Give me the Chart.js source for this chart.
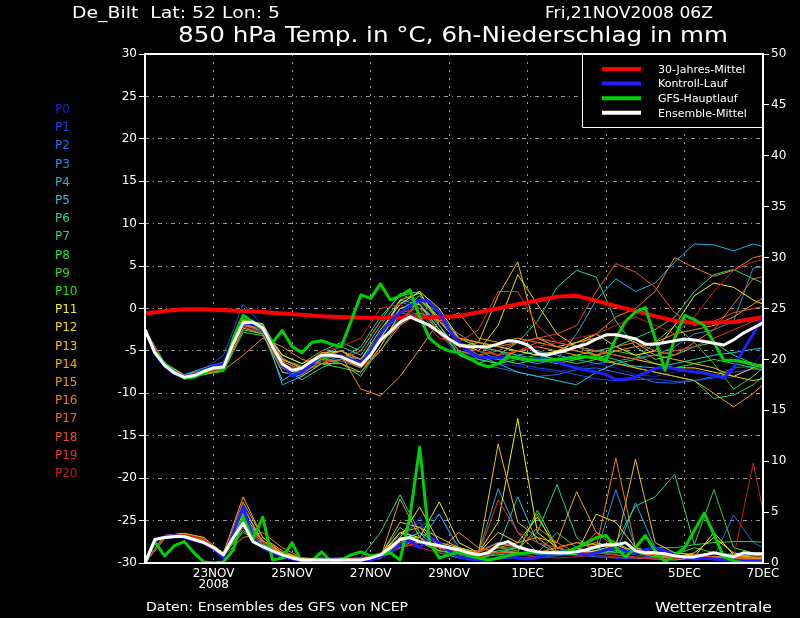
<!DOCTYPE html>
<html>
<head>
<meta charset="utf-8">
<title>De_Bilt 850 hPa Ensemble</title>
<script src="https://cdn.jsdelivr.net/npm/chart.js@4.4.1/dist/chart.umd.min.js"></script>
<style>
  html, body { margin: 0; padding: 0; background: #000; }
  canvas { display: block; }
</style>
</head>
<body>
<canvas id="ensChart" width="800" height="618"></canvas>
<script>
// x values are hours after Fri 21NOV2008 06Z
const STEP_MAIN = 6;     // Hauptlauf, Kontroll-Lauf, Ensemble-Mittel
const STEP_MEMBER = 12;  // members and 30-Jahres-Mittel
const X_MAX_HOURS = 378;
const X_TICK_HOURS = [42, 90, 138, 186, 234, 282, 330, 378];
const X_TICK_LABELS = [['23NOV', '2008'], '25NOV', '27NOV', '29NOV', '1DEC', '3DEC', '5DEC', '7DEC'];

// 850 hPa temperature, deg C (left axis)
const CLIMATE_TEMP = [-0.6,-0.3,-0.1,-0.1,-0.2,-0.3,-0.4,-0.6,-0.75,-0.9,-1.0,-1.1,-1.1,-1.1,-1.0,-1.0,-0.9,-0.45,0.0,0.5,0.95,1.4,1.5,0.9,0.3,-0.3,-0.9,-1.45,-1.7,-1.65,-1.6,-1.2,-0.8];
const GFS_TEMP = [-2.5,-5.1,-6.5,-7.5,-8.2,-8.1,-7.6,-7.0,-7.3,-3.5,
  -0.8,-1.6,-2.5,-4.0,-2.6,-4.5,-5.2,-4.0,-3.8,-4.2,
  -4.5,-1.5,1.6,1.2,2.9,1.0,1.5,2.2,-1.0,-3.5,
  -4.5,-5.0,-5.2,-5.8,-6.5,-6.9,-6.5,-5.7,-5.8,-6.0,
  -6.1,-6.1,-6.0,-5.9,-5.8,-5.7,-5.8,-6.1,-3.5,-1.5,
  -0.4,0.1,-3.5,-7.3,-3.5,-0.8,-1.3,-2.0,-4.0,-6.1,
  -6.1,-6.3,-6.6,-6.9];
const CONTROL_TEMP = [-2.5,-5.3,-6.8,-7.7,-8.0,-7.8,-7.3,-6.8,-6.5,-4.0,
  -1.8,-1.8,-2.6,-4.5,-6.5,-8.0,-7.5,-6.5,-5.5,-5.5,
  -5.6,-6.0,-6.4,-5.0,-3.0,-1.5,-0.5,0.3,1.0,0.8,
  -0.5,-2.5,-4.0,-5.0,-5.7,-5.8,-5.8,-5.8,-5.8,-5.9,
  -5.9,-6.0,-6.3,-6.7,-7.0,-7.3,-7.5,-7.8,-8.4,-8.3,
  -8.1,-7.6,-7.1,-6.9,-7.1,-7.3,-7.5,-7.6,-7.9,-8.2,
  -7.0,-4.9,-3.0,-1.0];
const MEAN_TEMP = [-2.5,-5.2,-6.7,-7.6,-8.1,-7.9,-7.4,-7.0,-6.9,-4.1,
  -1.7,-1.6,-2.3,-4.5,-6.5,-7.3,-7.0,-6.2,-5.5,-5.5,
  -5.7,-6.2,-6.7,-5.5,-3.7,-2.7,-1.6,-1.0,-1.5,-2.0,
  -2.8,-3.6,-4.3,-4.5,-4.5,-4.5,-4.2,-3.8,-3.9,-4.3,
  -5.3,-5.5,-5.2,-4.9,-4.5,-4.2,-3.6,-3.1,-3.1,-3.3,
  -3.6,-4.2,-4.2,-4.0,-3.8,-3.6,-3.7,-3.9,-4.1,-4.3,
  -3.7,-2.9,-2.3,-1.7];

// 6h precipitation, mm (right axis)
const GFS_PRECIP = [0.0,2.1,0.7,1.7,2.1,1.0,0.1,0.0,0.1,1.3,
  4.5,2.3,4.5,0.3,0.5,2.0,0.0,0.2,1.1,0.1,
  0.3,0.8,1.1,0.7,0.8,1.0,0.3,4.5,11.4,2.0,
  0.5,0.8,1.1,0.7,0.5,0.3,0.5,0.7,0.9,1.0,
  1.0,1.0,1.0,1.1,1.5,2.0,2.5,2.7,1.5,0.6,
  1.5,2.7,1.2,0.1,0.8,1.5,3.2,4.9,2.8,0.6,
  0.2,0.0,0.0,0.0];
const CONTROL_PRECIP = [0.0,2.2,2.6,2.7,2.5,2.2,2.0,1.4,0.5,3.0,
  5.5,2.5,1.5,1.0,0.7,0.4,0.2,0.2,0.3,0.4,
  0.3,0.2,0.3,0.3,0.6,1.0,1.8,2.2,1.5,2.5,
  2.0,1.2,0.6,0.4,0.3,0.2,0.5,0.8,0.5,0.4,
  0.5,0.8,1.0,1.2,1.0,0.8,1.0,1.3,1.5,1.2,
  1.0,1.3,1.5,1.2,0.8,0.5,0.4,0.5,0.4,0.3,
  0.3,0.2,0.2,0.2];
const MEAN_PRECIP = [0.0,2.3,2.5,2.6,2.6,2.3,2.0,1.5,0.8,2.5,
  3.9,2.1,1.6,1.2,0.8,0.5,0.3,0.3,0.3,0.3,
  0.3,0.3,0.3,0.5,0.8,1.5,2.3,2.5,2.1,1.9,
  1.7,1.5,1.3,1.0,0.8,1.0,1.8,2.1,1.6,1.3,
  1.1,1.0,1.0,1.0,1.1,1.3,1.6,1.8,1.8,2.0,
  1.2,1.0,1.0,0.9,0.7,0.6,0.6,0.8,1.0,0.8,
  0.6,1.0,0.9,0.9];

// ensemble members P0..P20, 12-hourly
const MEMBER_NAMES = ['P0','P1','P2','P3','P4','P5','P6','P7','P8','P9','P10',
  'P11','P12','P13','P14','P15','P16','P17','P18','P19','P20'];
const MEMBER_COLORS = ['#2020c8','#1848e8','#2068e8','#2890e8','#20b0e8','#20c8d0','#20d890',
  '#28d868','#30d850','#38d038','#20e010','#f0f010','#f0d810','#f0c010','#f0a810','#f09810',
  '#f08010','#f06818','#f05020','#e03828','#c82020'];
const MEMBER_TEMP = [
  [-2.5,-6.6,-8.0,-7.3,-6.8,-1.6,-2.2,-6.8,-7.5,-5.5,-5.5,-6.5,-3.0,0.5,1.5,-1.0,-4.5,-6.0,-6.5,-6.8,-7.2,-7.5,-7.0,-6.5,-7.0,-7.8,-8.0,-7.5,-7.2,-7.8,-8.2,-6.5,-4.0],
  [-2.5,-6.5,-8.0,-7.2,-5.5,0.5,-2.0,-7.5,-8.0,-5.8,-5.8,-6.8,-3.5,-0.5,0.8,-2.0,-5.0,-5.8,-6.0,-6.5,-7.0,-7.3,-7.8,-8.3,-8.5,-8.4,-8.3,-8.6,-8.5,-8.2,-7.5,-7.2,-7.0],
  [-2.5,-6.8,-8.2,-7.5,-7.0,-2.0,-2.5,-6.0,-7.0,-6.0,-6.2,-7.0,-4.0,-1.0,-0.5,-3.0,-5.5,-6.5,-7.0,-7.5,-8.0,-7.8,-7.2,-7.0,-7.5,-8.0,-8.7,-8.8,-8.5,-8.0,-7.0,-6.8,-6.5],
  [-2.5,-6.6,-8.1,-7.4,-6.6,-1.2,-2.0,-7.0,-7.8,-6.0,-5.0,-6.0,-3.0,0.8,0.0,-1.5,-4.0,-6.0,-6.5,-5.5,-5.0,-5.5,-6.0,-6.5,-6.2,-5.8,-5.5,-4.5,-3.0,-2.5,-1.5,4.8,5.0],
  [-2.5,-6.4,-7.8,-7.0,-6.3,-1.0,-2.0,-9.0,-8.0,-6.5,-5.5,-6.0,-3.5,0.0,1.0,-0.5,-3.5,-4.5,-5.0,-6.0,-6.5,-6.0,-3.0,1.0,3.5,2.0,3.0,5.5,7.6,7.5,6.8,7.6,7.0],
  [-2.5,-6.7,-8.0,-7.3,-6.8,-1.8,-2.8,-8.5,-7.0,-5.5,-4.5,-5.5,-2.0,1.0,0.5,-2.0,-5.0,-5.5,-6.5,-7.5,-8.0,-8.5,-9.0,-7.5,-6.5,-6.8,-7.0,-6.5,-6.0,-5.5,-5.2,-4.8,-4.5],
  [-2.5,-6.8,-8.2,-7.6,-7.2,-2.5,-3.0,-7.0,-8.4,-7.0,-6.0,-4.5,-1.0,1.5,2.0,-2.0,-5.5,-6.5,-5.5,-4.0,-1.5,2.5,4.5,3.7,-1.5,-4.5,-6.0,-5.5,-4.5,-4.0,-5.5,-6.5,-7.0],
  [-2.5,-6.5,-7.9,-7.2,-6.5,-1.5,-2.0,-5.5,-6.5,-5.0,-4.0,-5.0,-1.5,1.8,0.5,-3.0,-4.5,-5.0,-5.5,-5.0,-5.5,-6.0,-5.5,-5.0,-4.5,-3.5,-2.5,-1.0,2.0,4.0,4.6,3.5,2.5],
  [-2.5,-6.7,-8.3,-7.7,-7.3,-2.2,-2.8,-6.5,-7.5,-6.5,-7.0,-7.5,-5.0,-1.5,1.0,-1.0,-3.5,-4.5,-5.0,-5.5,-6.0,-6.5,-6.0,-5.5,-6.0,-7.0,-7.5,-8.0,-8.5,-10.6,-10.2,-9.0,-7.0],
  [-2.5,-6.6,-8.1,-7.5,-7.0,-2.0,-2.5,-6.0,-6.8,-5.8,-6.5,-8.0,-4.5,-0.5,1.5,-1.5,-4.0,-5.0,-6.0,-6.5,-6.0,-5.0,-4.5,-5.5,-6.5,-6.0,-4.0,-2.0,-4.0,-6.5,-9.5,-8.0,-6.0],
  [-2.5,-6.9,-8.3,-7.8,-7.4,-2.8,-3.2,-6.8,-7.2,-6.0,-5.5,-6.5,-3.5,0.0,0.5,-2.5,-5.5,-6.0,-6.5,-6.0,-5.5,-6.0,-6.5,-6.0,-5.0,-5.5,-6.5,-7.0,-6.5,-6.0,-6.5,-7.0,-7.5],
  [-2.5,-6.8,-8.2,-7.5,-6.8,-1.8,-2.5,-5.5,-6.5,-5.5,-5.0,-6.0,-2.5,0.5,2.0,0.0,-3.5,-4.0,-4.5,-5.0,-5.5,-5.0,-4.0,-3.0,-4.5,-5.5,-5.0,-2.0,1.5,3.0,2.5,1.0,0.0],
  [-2.5,-6.6,-8.0,-7.3,-6.5,-1.4,-1.8,-6.0,-7.0,-5.2,-5.0,-6.5,-3.0,1.0,1.8,-1.5,-4.0,-5.0,-2.0,4.0,0.5,-3.0,-4.5,-5.0,-5.5,-6.0,-6.5,-7.0,-7.0,-7.5,-8.0,-7.0,-6.0],
  [-2.5,-6.7,-8.1,-7.4,-6.7,-1.5,-2.3,-6.2,-7.3,-5.5,-5.7,-6.8,-3.5,0.0,0.5,-2.5,-4.5,-4.0,1.5,5.5,-3.5,-4.5,-4.0,-3.5,-3.0,-4.0,-5.5,-6.0,-6.5,-7.0,-8.0,-8.5,-8.0],
  [-2.5,-6.9,-8.3,-7.7,-7.2,-2.3,-3.0,-7.5,-8.0,-6.5,-6.5,-7.5,-4.5,-0.5,1.0,-1.0,-4.0,-5.5,-6.0,-5.0,-4.5,-5.0,-5.5,-6.0,-6.5,-7.0,-7.5,-8.0,-8.5,-10.0,-11.6,-10.0,-8.0],
  [-2.5,-6.5,-7.9,-7.2,-6.6,-1.3,-2.2,-6.5,-7.8,-5.2,-5.5,-9.5,-10.3,-8.0,-4.8,-1.5,-0.5,-3.5,-4.0,-3.5,-4.0,-4.5,-5.0,-5.5,-5.0,-4.5,-4.0,-3.0,-2.5,-2.0,-1.0,0.5,2.0],
  [-2.5,-6.8,-8.3,-7.6,-7.3,-5.5,-3.5,-4.5,-6.0,-6.5,-6.0,-7.0,-5.0,-2.0,-0.5,-1.5,-3.5,-4.0,-4.5,-4.0,-3.5,-4.0,-4.5,-3.0,-1.0,0.0,2.0,6.0,4.8,3.8,4.5,6.0,6.5],
  [-2.5,-6.6,-8.0,-7.4,-6.9,-1.9,-2.4,-5.8,-7.2,-5.8,-5.0,-6.0,-4.0,-2.0,1.0,-1.5,-3.0,-4.5,-5.5,-5.0,-4.0,-4.5,-5.0,-5.5,-4.5,-4.0,-5.0,-5.5,-4.0,-2.5,0.5,3.5,4.0],
  [-2.5,-6.7,-8.1,-7.5,-7.0,-2.0,-2.6,-6.6,-7.6,-6.2,-6.0,-5.0,-1.5,-0.5,0.0,-3.0,-5.0,-5.5,-5.0,-4.0,-3.5,-3.0,-2.0,2.0,5.3,4.3,2.5,-0.5,-2.0,-1.5,-0.5,0.0,0.5],
  [-2.5,-6.6,-8.0,-7.3,-6.7,-1.6,-2.1,-6.2,-7.3,-5.6,-5.7,-6.5,-3.0,-0.5,-1.0,-3.5,-4.0,-2.5,2.0,2.0,-2.0,-4.0,-4.5,-5.0,-5.5,-6.0,-5.5,-5.0,-4.5,-3.5,-2.5,-1.5,-1.0],
  [-2.5,-6.8,-8.2,-7.6,-7.1,-2.2,-2.8,-7.0,-7.0,-5.0,-4.5,-3.5,0.0,0.5,-1.0,-3.0,-4.5,-5.0,-5.5,-5.0,-4.5,-4.0,-3.5,-3.0,-2.0,-1.0,-2.0,-3.0,-1.0,2.0,4.5,5.5,6.0]
];
const MEMBER_PRECIP = [
  [0,2.5,2.7,2.3,0.6,4.5,2.0,0.8,0.2,0.3,0.2,0.3,0.5,1.8,4.5,2.0,1.5,0.5,0.8,0.6,0.5,0.8,1.0,0.7,0.5,0.4,0.6,0.8,0.5,0.3,0.2,0.3,0.2],
  [0,2.6,2.8,2.4,0.7,5.8,2.0,0.6,0.3,0.2,0.3,0.2,0.4,2.0,3.5,4.8,1.2,0.6,0.4,0.5,0.6,0.7,0.9,1.0,1.2,0.8,0.5,0.6,0.4,0.6,0.5,0.4,0.3],
  [0,2.4,2.6,2.2,0.5,5.0,1.5,0.7,0.2,0.2,0.3,0.3,0.5,2.8,4.0,1.5,0.8,0.5,1.0,1.0,0.6,0.8,0.8,0.6,0.5,0.5,0.4,0.3,0.5,0.6,4.7,2.0,1.0],
  [0,2.5,2.8,2.4,0.9,4.5,2.2,0.9,0.3,0.3,0.3,0.2,0.5,2.0,3.0,2.0,1.0,1.2,2.0,1.5,0.8,1.0,1.5,1.0,7.2,1.5,0.8,0.6,0.8,0.5,1.0,0.8,0.6],
  [0,2.4,2.6,2.3,0.8,4.2,1.8,1.0,0.4,0.2,0.3,0.3,0.6,3.0,2.0,4.8,1.5,1.0,7.3,3.0,1.0,0.8,1.2,1.5,1.0,5.9,1.5,1.0,0.8,1.0,0.6,0.5,0.5],
  [0,2.6,2.7,2.3,0.7,4.0,1.5,0.6,0.3,0.4,0.5,0.3,0.6,2.2,3.0,1.8,1.0,0.6,1.5,6.5,2.0,1.0,0.8,1.5,2.0,1.0,0.6,0.5,0.8,0.6,0.5,0.4,0.4],
  [0,2.7,2.9,2.4,0.6,3.5,1.6,0.5,0.2,0.3,0.3,0.5,3.0,6.7,3.0,1.0,0.5,0.4,1.0,1.5,3.0,7.7,2.5,1.0,0.8,0.5,0.4,0.3,0.5,0.4,0.3,0.2,0.2],
  [0,2.5,2.7,2.3,0.8,3.2,1.8,0.9,0.4,0.5,0.3,0.4,0.8,3.5,2.0,1.2,0.8,0.5,1.2,1.5,1.0,1.2,1.0,1.5,2.0,5.6,6.5,8.7,1.8,2.0,2.1,2.1,2.0],
  [0,2.6,2.8,2.3,0.7,3.8,1.5,0.7,0.3,0.3,0.4,0.3,0.5,2.0,2.0,1.2,1.0,0.8,1.2,1.0,5.2,1.5,1.0,1.0,1.2,1.5,1.0,0.8,0.6,0.5,0.4,0.3,0.3],
  [0,2.5,2.7,2.2,0.6,3.5,1.5,0.8,0.3,0.3,0.4,0.5,0.8,1.5,2.5,1.5,0.8,0.6,0.8,1.0,1.0,3.0,1.5,1.0,1.0,1.2,1.5,1.5,1.8,7.2,1.5,1.0,0.8],
  [0,2.6,2.9,2.5,0.9,3.0,2.0,1.0,0.5,0.4,0.3,0.3,0.6,2.5,2.2,1.5,1.0,0.8,1.5,1.2,4.8,1.0,0.8,1.2,1.5,1.0,0.6,0.8,1.5,1.0,0.8,0.6,0.5],
  [0,2.6,2.8,2.3,0.8,4.0,2.2,1.0,0.4,0.3,0.2,0.3,0.8,3.0,2.5,6.0,2.0,1.0,4.0,14.2,3.0,1.5,1.0,1.2,1.8,1.0,0.8,0.5,1.0,2.5,1.0,0.5,0.3],
  [0,2.5,2.7,2.3,0.9,5.5,2.0,0.8,0.3,0.2,0.3,0.3,0.5,2.5,5.5,2.0,1.5,1.0,3.0,2.0,4.5,1.5,1.0,4.8,4.0,1.5,1.0,0.8,0.6,3.0,0.8,0.5,0.5],
  [0,2.7,2.9,2.5,0.8,4.8,2.2,1.0,0.3,0.3,0.2,0.4,0.7,4.0,3.5,2.5,1.5,1.0,11.7,4.0,2.5,1.0,1.5,2.0,1.5,10.2,2.0,1.0,0.8,0.6,0.5,0.4,0.3],
  [0,2.7,2.9,2.4,1.0,6.5,2.5,1.2,0.4,0.3,0.3,0.3,0.6,3.0,3.5,1.5,1.0,0.6,1.5,2.0,2.5,2.0,7.0,3.0,2.0,1.0,0.8,0.6,0.5,0.4,0.3,0.3,0.2],
  [0,2.6,2.8,2.4,0.9,6.0,2.5,1.0,0.3,0.2,0.3,0.4,0.5,6.3,2.5,1.2,3.0,1.5,1.0,1.0,1.0,1.5,2.0,1.8,1.5,1.0,0.8,0.6,0.5,0.4,0.6,0.5,0.4],
  [0,2.7,2.8,2.5,0.7,2.5,3.0,1.5,0.5,0.3,0.3,0.3,0.5,2.5,2.5,1.5,1.2,1.0,2.0,1.5,1.0,1.5,2.0,1.5,10.3,1.5,1.0,0.8,0.6,0.5,0.6,0.8,0.5],
  [0,2.5,2.7,2.3,0.8,3.8,2.0,0.8,0.3,0.3,0.3,0.4,0.6,2.0,2.0,1.5,1.0,0.8,1.0,1.2,3.5,2.0,1.0,1.0,1.5,1.0,0.8,0.6,0.8,0.6,0.5,0.4,0.3],
  [0,2.6,2.8,2.3,0.8,4.2,2.2,0.9,0.3,0.3,0.3,0.3,0.5,1.5,2.0,1.5,1.0,1.2,1.5,1.5,1.0,1.2,1.0,3.0,1.5,1.0,0.8,0.6,0.8,0.6,0.5,0.6,0.5],
  [0,2.5,2.7,2.3,0.7,4.0,2.0,0.8,0.2,0.3,0.3,0.4,0.6,1.5,2.0,1.5,1.0,0.8,6.2,3.0,2.0,1.5,1.0,1.0,0.8,0.6,0.5,0.4,0.5,0.4,0.3,0.3,0.3],
  [0,2.6,2.8,2.4,0.8,3.5,2.0,0.7,0.3,0.3,0.4,0.5,1.0,2.0,1.5,1.0,0.8,0.6,1.0,0.8,0.6,0.5,0.6,0.8,0.6,0.5,0.4,0.5,0.6,0.4,0.5,9.8,0.5]
];

const LEGEND_LABELS = ['30-Jahres-Mittel', 'Kontroll-Lauf', 'GFS-Hauptlauf', 'Ensemble-Mittel'];
const FONT = '"DejaVu Sans", sans-serif';

function toPoints(values, step) {
  return values.map((v, i) => ({ x: i * step, y: v }));
}

function line(label, data, color, width, axis) {
  return {
    label: label, data: data, yAxisID: axis,
    borderColor: color, borderWidth: width,
    pointRadius: 0, tension: 0, fill: false, borderJoinStyle: 'round'
  };
}

// first dataset is drawn on top
const datasets = [
  line('Ensemble-Mittel', toPoints(MEAN_TEMP, STEP_MAIN), '#ffffff', 3, 'yT'),
  line('', toPoints(MEAN_PRECIP, STEP_MAIN), '#ffffff', 3, 'yP'),
  line('GFS-Hauptlauf', toPoints(GFS_TEMP, STEP_MAIN), '#00d000', 3, 'yT'),
  line('', toPoints(GFS_PRECIP, STEP_MAIN), '#00d000', 3, 'yP'),
  line('Kontroll-Lauf', toPoints(CONTROL_TEMP, STEP_MAIN), '#2020ff', 3, 'yT'),
  line('', toPoints(CONTROL_PRECIP, STEP_MAIN), '#2020ff', 3, 'yP'),
  line('30-Jahres-Mittel', toPoints(CLIMATE_TEMP, STEP_MEMBER), '#ff0000', 4, 'yT')
];
for (let m = MEMBER_NAMES.length - 1; m >= 0; m--) {
  datasets.push(line('', toPoints(MEMBER_TEMP[m], STEP_MEMBER), MEMBER_COLORS[m], 1, 'yT'));
  datasets.push(line('', toPoints(MEMBER_PRECIP[m], STEP_MEMBER), MEMBER_COLORS[m], 1, 'yP'));
}

// draw text squeezed/stretched to a given width
function fitText(ctx, text, x, y, width, size, color) {
  ctx.save();
  ctx.font = size + 'px ' + FONT;
  ctx.fillStyle = color;
  ctx.textBaseline = 'alphabetic';
  ctx.textAlign = 'left';
  const w = ctx.measureText(text).width;
  ctx.translate(x, y);
  ctx.scale(width / w, 1);
  ctx.fillText(text, 0, 0);
  ctx.restore();
}

const decorPlugin = {
  id: 'wzDecor',
  afterDatasetsDraw(chart) {
    const { ctx, chartArea: a } = chart;
    ctx.save();
    // legend box, top right
    const boxLeft = 582, boxBottom = 127;
    ctx.fillStyle = '#000';
    ctx.fillRect(boxLeft, a.top, a.right - boxLeft, boxBottom - a.top);
    ctx.strokeStyle = '#fff';
    ctx.lineWidth = 1;
    ctx.beginPath();
    ctx.moveTo(boxLeft + 0.5, a.top);
    ctx.lineTo(boxLeft + 0.5, boxBottom + 0.5);
    ctx.lineTo(a.right, boxBottom + 0.5);
    ctx.stroke();
    LEGEND_LABELS.forEach((lab, i) => {
      const ds = chart.data.datasets.find(d => d.label === lab);
      const y = 69 + i * 14.6;
      ctx.strokeStyle = ds.borderColor;
      ctx.lineWidth = 4;
      ctx.beginPath();
      ctx.moveTo(602, y);
      ctx.lineTo(641, y);
      ctx.stroke();
      ctx.font = '11px ' + FONT;
      ctx.fillStyle = '#fff';
      ctx.textBaseline = 'middle';
      ctx.fillText(lab, 658, y + 1);
    });
    // frame
    ctx.strokeStyle = '#fff';
    ctx.lineWidth = 2;
    ctx.strokeRect(a.left, a.top, a.right - a.left, a.bottom - a.top);
    ctx.restore();
  },
  afterDraw(chart) {
    const ctx = chart.ctx;
    fitText(ctx, 'De_Bilt  Lat: 52 Lon: 5', 72, 18, 208, 15, '#fff');
    fitText(ctx, 'Fri,21NOV2008 06Z', 545, 18, 168, 15, '#fff');
    fitText(ctx, '850 hPa Temp. in \u00B0C, 6h-Niederschlag in mm', 178, 42, 550, 22, '#fff');
    fitText(ctx, 'Daten: Ensembles des GFS von NCEP', 146, 611, 262, 12, '#fff');
    fitText(ctx, 'Wetterzentrale', 655, 612, 117, 14, '#fff');
    ctx.save();
    ctx.font = '12px ' + FONT;
    ctx.textBaseline = 'alphabetic';
    MEMBER_NAMES.forEach((name, m) => {
      ctx.fillStyle = MEMBER_COLORS[m];
      ctx.fillText(name, 55, 113 + m * 18.2);
    });
    ctx.restore();
  }
};

const ctx = document.getElementById('ensChart').getContext('2d');
new Chart(ctx, {
  type: 'line',
  data: { datasets: datasets },
  plugins: [decorPlugin],
  options: {
    responsive: false,
    animation: false,
    events: [],
    parsing: true,
    layout: { padding: { top: 54, left: 0, right: 0, bottom: 0 } },
    plugins: { legend: { display: false }, tooltip: { enabled: false }, title: { display: false } },
    scales: {
      x: {
        type: 'linear',
        min: 0,
        max: X_MAX_HOURS,
        afterBuildTicks: (axis) => { axis.ticks = X_TICK_HOURS.map(v => ({ value: v })); },
        afterFit: (axis) => { axis.height = 55; },
        ticks: {
          color: '#fff',
          font: { family: FONT, size: 12, lineHeight: 0.95 },
          padding: 5,
          maxRotation: 0,
          autoSkip: false,
          callback: (value, index) => X_TICK_LABELS[index]
        },
        grid: { color: '#9a9a9a', drawTicks: false },
        border: { display: false, dash: [2, 6] }
      },
      yT: {
        type: 'linear',
        position: 'left',
        min: -30,
        max: 30,
        afterFit: (axis) => { axis.width = 145; },
        ticks: { stepSize: 5, color: '#fff', font: { family: FONT, size: 12 }, padding: 2 },
        grid: { color: '#9a9a9a', tickColor: '#fff', tickLength: 6, tickWidth: 1 },
        border: { display: false, dash: [4, 4, 1, 4] }
      },
      yP: {
        type: 'linear',
        position: 'right',
        min: 0,
        max: 50,
        afterFit: (axis) => { axis.width = 37; },
        ticks: { stepSize: 5, color: '#fff', font: { family: FONT, size: 12 }, padding: 2 },
        grid: { drawOnChartArea: false, tickColor: '#fff', tickLength: 6, tickWidth: 1 },
        border: { display: false }
      }
    }
  }
});
</script>
</body>
</html>
